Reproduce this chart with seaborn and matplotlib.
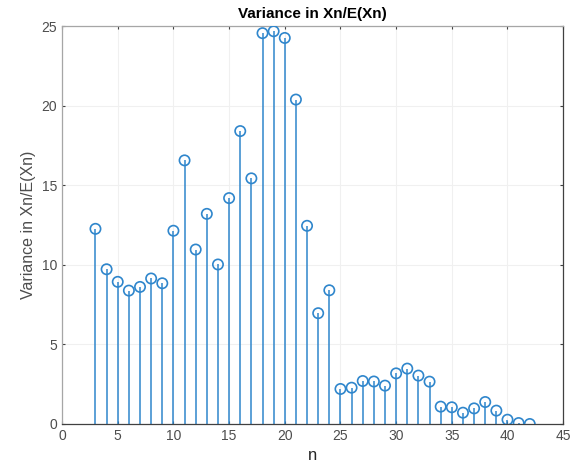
import matplotlib
matplotlib.use("Agg")
import matplotlib.pyplot as plt
import numpy as np
import pandas as pd
import seaborn as sns

# n values and measured variance ratio
n_vals = list(range(3, 43))
variance = [
    12.26, 9.72, 8.93, 8.38, 8.61, 9.14, 8.84, 12.14, 16.56, 10.96,
    13.2, 10.02, 14.19, 18.4, 15.43, 24.55, 24.67, 24.25, 20.38, 12.45,
    6.96, 8.4, 2.2, 2.28, 2.7, 2.67, 2.41, 3.18, 3.48, 3.04,
    2.66, 1.09, 1.05, 0.71, 0.98, 1.38, 0.84, 0.27, 0.06, 0.0,
]
x_ticks = list(range(0, 50, 5))
y_ticks = list(range(0, 30, 5))

STEM_BLUE = "#2f86cc"

sns.set_style("whitegrid")
plt.rcParams["font.family"] = ["Liberation Sans", "DejaVu Sans"]

df = pd.DataFrame({"n": n_vals, "v": variance})

fig = plt.figure(figsize=(5.8, 4.73), dpi=100)
ax = fig.add_axes([0.107, 0.1036, 0.864, 0.8414])

ax.vlines(df["n"], 0, df["v"], color=STEM_BLUE, linewidth=1.1, zorder=2)
sns.scatterplot(data=df, x="n", y="v", ax=ax, marker="o", s=55,
                facecolors="none", edgecolor=STEM_BLUE, linewidth=1.2, zorder=3)

ax.set_xlim(0, 45)
ax.set_ylim(0, 25)
ax.set_xticks(x_ticks)
ax.set_yticks(y_ticks)
ax.grid(True, color="#f0f0f0", linewidth=0.8)
for side, s in ax.spines.items():
    s.set_visible(True)
    s.set_linewidth(0.9)
    s.set_color("#a6a6a6" if side in ("top", "left") else "#404040")
ax.tick_params(direction="in", length=2.5, colors="#404040", labelsize=10,
               labelcolor="#4d4d4d", bottom=True, left=True, top=True, right=True,
               labeltop=False, labelright=False)
ax.set_xlabel("n", fontsize=12, color="#262626")
ax.set_ylabel("Variance in Xn/E(Xn)", fontsize=11.5, color="#4d4d4d")
ax.set_title("Variance in Xn/E(Xn)", fontsize=11, fontweight="bold", color="#000000", pad=6)

fig.savefig("out.png", dpi=100)
plt.close(fig)
